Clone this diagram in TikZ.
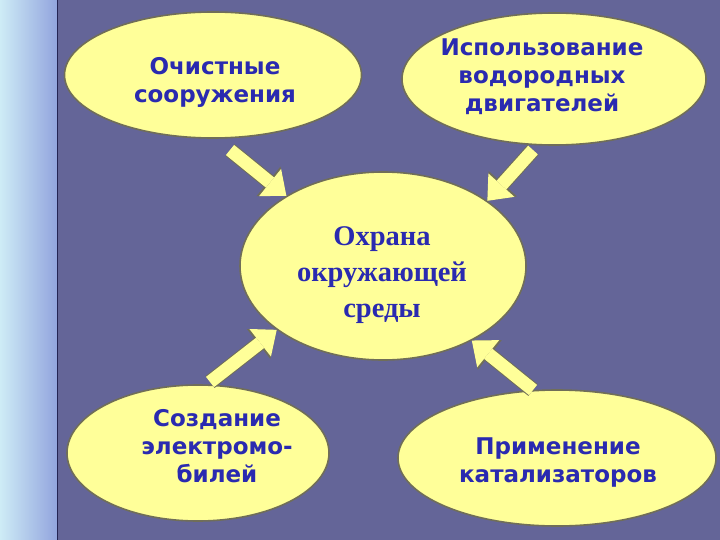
\documentclass[tikz,border=0pt]{standalone}
\usepackage{fontspec}
\setmainfont{Liberation Serif}
\newfontfamily\sidefont{DejaVu Sans}
\usetikzlibrary{positioning,arrows.meta,shapes.geometric,calc}

\definecolor{slide}{RGB}{100,101,152}
\definecolor{pale}{RGB}{255,255,153}
\definecolor{rim}{RGB}{112,110,88}
\definecolor{ink}{RGB}{42,42,176}
\definecolor{stripL}{RGB}{206,236,246}
\definecolor{stripM}{RGB}{168,204,232}
\definecolor{stripR}{RGB}{146,164,222}
\definecolor{seam}{RGB}{36,36,84}

\begin{document}
\begin{tikzpicture}[
  x=1pt, y=-1pt,
  oval/.style={draw=rim, line width=1.6pt, fill=pale, ellipse, inner sep=0pt},
  side/.style={font=\sidefont\bfseries\fontsize{23}{28}\selectfont, text=ink, align=center, inner sep=0pt, anchor=base},
  hubtext/.style={font=\bfseries\fontsize{28.5}{36}\selectfont, text=ink, align=center, inner sep=0pt, anchor=base},
  blk/.style={line width=13pt, draw=pale, -{Triangle[width=35pt,length=21pt,line width=0pt]},
    preaction={draw=rim, line width=15pt, -{Triangle[width=38pt,length=23pt,line width=0pt]}}}]

\useasboundingbox (0,0) rectangle (720,540);

% slide background
\fill[slide] (0,0) rectangle (720,540);
\shade[left color=stripL, middle color=stripM, right color=stripR] (0,0) rectangle (57,540);
\draw[seam, line width=1.5pt] (57.5,0) -- (57.5,540);

% ovals
\node[oval, minimum width=286pt, minimum height=188pt] (hub) at (383,266) {};
\node[oval, minimum width=297pt, minimum height=126pt] (clean) at (213,75) {};
\node[oval, minimum width=304pt, minimum height=132pt] (hydro) at (554,79) {};
\node[oval, minimum width=262pt, minimum height=136pt] (electro) at (198,453) {};
\node[oval, minimum width=318pt, minimum height=136pt] (catal) at (557,458) {};

% texts (anchored at the baseline of the last line)
\node[hubtext] (hubT) at (382,317) {Охрана\\окружающей\\среды};
\node[side] (cleanT) at (215,103) {Очистные\\сооружения};
\node[side] (hydroT) at (542,112) {Использование\\водородных\\двигателей};
\node[side] (electroT) at (217,482) {Создание\\электромо-\\билей};
\node[side] (catalT) at (558,482) {Применение\\катализаторов};

% arrows into the hub
\coordinate (t1) at (230,150);
\coordinate (t2) at (533,150);
\coordinate (t3) at (210,382);
\coordinate (t4) at (533,390);
\draw[blk] (t1) -- (hub.144);
\draw[blk] (t2) -- (hub.32);
\draw[blk] (t3) -- (hub.211);
\draw[blk] (t4) -- (hub.320);
\end{tikzpicture}
\end{document}
